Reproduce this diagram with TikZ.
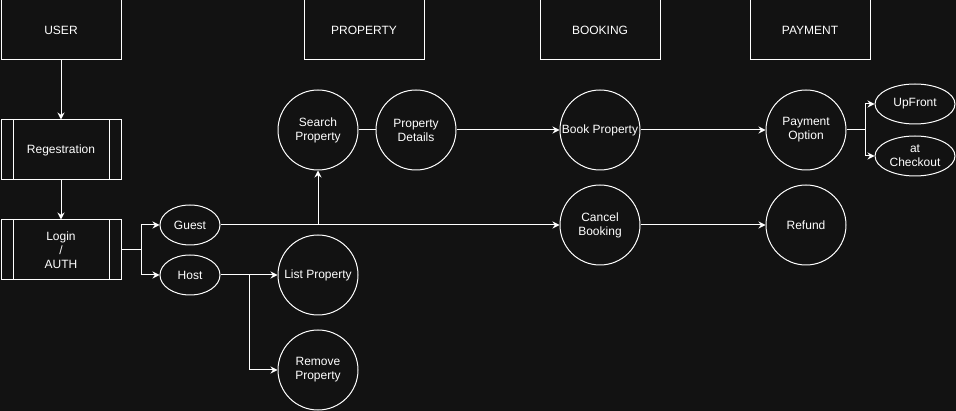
\documentclass[tikz,border=0pt]{standalone}
\usepackage{fontspec}
\setmainfont{Liberation Sans}
\usepackage{tikz}
\usetikzlibrary{arrows.meta}
\definecolor{dBack}{RGB}{18,18,18}
\definecolor{dLine}{RGB}{255,255,255}
\tikzset{
  box/.style={rectangle, draw=dLine, line width=1pt, text=dLine, align=center,
              minimum width=120pt, minimum height=60pt, inner sep=0pt,
              font=\fontsize{12}{14}\selectfont},
  proc/.style={box, path picture={
      \draw[dLine, line width=1pt]
        ([xshift=12pt]path picture bounding box.north west) --
        ([xshift=12pt]path picture bounding box.south west)
        ([xshift=-12pt]path picture bounding box.north east) --
        ([xshift=-12pt]path picture bounding box.south east);}},
  act/.style={circle, draw=dLine, line width=1pt, text=dLine, align=center,
              minimum size=80pt, inner sep=0pt, font=\fontsize{12}{14}\selectfont},
  role/.style={ellipse, draw=dLine, line width=1pt, text=dLine, align=center,
               minimum width=60pt, minimum height=40pt, inner sep=0pt,
               font=\fontsize{12}{14}\selectfont},
  opt/.style={role, minimum width=80pt},
  flow/.style={-{Stealth[length=7pt,width=7pt]}, draw=dLine, line width=1pt},
  link/.style={draw=dLine, line width=1pt},
}
\usetikzlibrary{shapes.geometric}
\begin{document}
\begin{tikzpicture}[x=1pt,y=-1pt]
  \fill[dBack] (0,0) rectangle (956,411);
  \useasboundingbox (0,0) rectangle (956,411);
  % lanes
  \node[box] (user) at (61,30) {USER};
  \node[box] (prop) at (364,30) {PROPERTY};
  \node[box] (bookh) at (600,30) {BOOKING};
  \node[box] (payh) at (810,30) {PAYMENT};
  % user side
  \node[proc] (reg) at (61,150) {Regestration};
  \node[proc] (login) at (61,250) {Login\\/\\AUTH};
  \node[role] (guest) at (190,225) {Guest};
  \node[role] (host) at (190,275) {Host};
  % property
  \node[act] (search) at (318,130) {Search\\Property};
  \node[act] (details) at (416,130) {Property\\Details};
  \node[act] (list) at (318,275) {List Property};
  \node[act] (remove) at (318,370) {Remove\\Property};
  % booking
  \node[act] (book) at (600,130) {Book Property};
  \node[act] (cancel) at (600,225) {Cancel\\Booking};
  % payment
  \node[act] (pay) at (806,130) {Payment\\Option};
  \node[act] (refund) at (806,225) {Refund};
  \node[opt] (upfront) at (915,104) {UpFront};
  \node[opt] (checkout) at (915,156) {at\\Checkout};

  \draw[flow] (user) -- (reg);
  \draw[flow] (reg) -- (login);
  \draw[flow] (login.east) -- ++(20,0) |- (guest.west);
  \draw[flow] (login.east) -- ++(20,0) |- (host.west);
  \draw[flow] (guest.east) -- (cancel.west);
  \draw[flow] (search.south |- guest.east) -- (search.south);
  \draw[link] (search) -- (details);
  \draw[flow] (details) -- (book);
  \draw[flow] (book) -- (pay);
  \draw[flow] (pay.east) -- ++(19,0) |- (upfront.west);
  \draw[flow] (pay.east) -- ++(19,0) |- (checkout.west);
  \draw[flow] (cancel) -- (refund);
  \draw[flow] (host) -- (list);
  \draw[flow] (host.east) -- ++(29,0) |- (remove.west);
\end{tikzpicture}
\end{document}
